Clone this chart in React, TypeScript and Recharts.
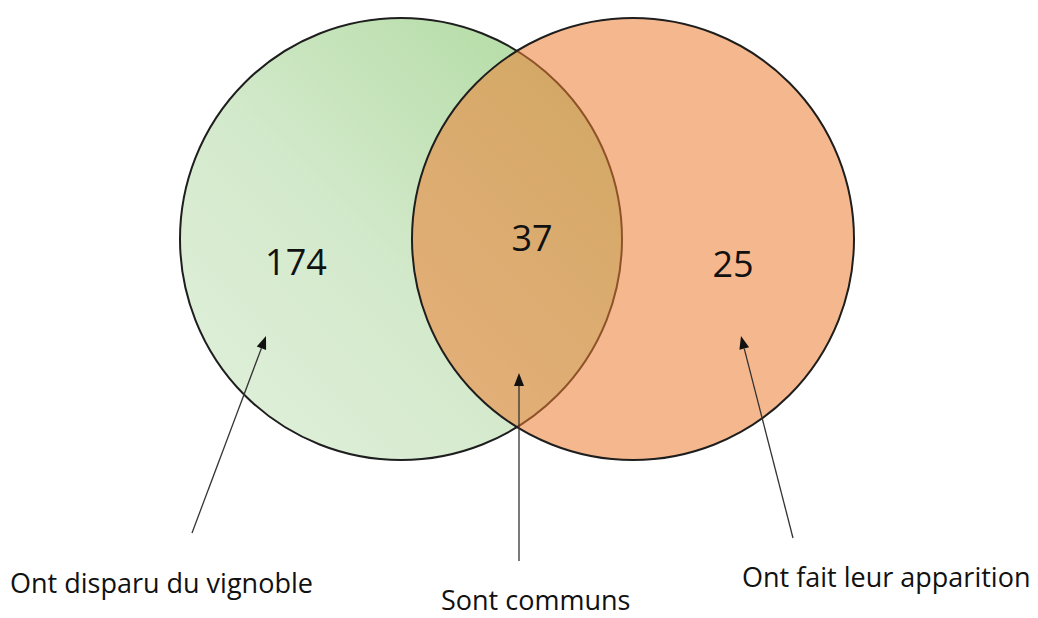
import React from 'react';
import { ScatterChart, Scatter, XAxis, YAxis } from 'recharts';

// diagram space is laid out in the same units as the picture (1 unit = 1px)
const CHART_W = 1038;
const CHART_H = 618;
const X_DOMAIN = [0, 1038];
const Y_DOMAIN = [0, 618];

// the two sets (circles)
const setNames = ['Ont disparu du vignoble', 'Ont fait leur apparition'];
const setCenterX = [401, 633];
const setCenterY = [239, 239];
const setRadius = [221, 221];

// the three regions of the diagram
const regionNames = ['Ont disparu du vignoble', 'Sont communs', 'Ont fait leur apparition'];
const regionCounts = [174, 37, 25];
const countX = [296, 532, 733];
const countY = [275, 251, 277];

// annotation arrows + captions
const arrowTailX = [192, 519, 793];
const arrowTailY = [533, 561, 538];
const arrowTipX = [266, 519, 741];
const arrowTipY = [336, 373, 336];
const captionX = [10, 441, 742];
const captionY = [593, 610, 587];

const FONT = '"Open Sans", Lato, sans-serif';
const pxPerUnitX = CHART_W / (X_DOMAIN[1] - X_DOMAIN[0]);
const pxPerUnitY = CHART_H / (Y_DOMAIN[1] - Y_DOMAIN[0]);

const setData = setNames.map((name, i) => ({ id: i, name, x: setCenterX[i], y: setCenterY[i], r: setRadius[i] }));
const countData = regionNames.map((name, i) => ({ id: i, name, value: regionCounts[i], x: countX[i], y: countY[i] }));
const arrowData = regionNames.map((name, i) => ({
  id: i,
  name,
  x: arrowTipX[i],
  y: arrowTipY[i],
  tailX: arrowTailX[i],
  tailY: arrowTailY[i],
}));
const captionData = regionNames.map((name, i) => ({ id: i, name, x: captionX[i], y: captionY[i] }));

const SetCircle = (props: any) => {
  const { cx, cy, payload } = props;
  const r = payload.r * pxPerUnitX;
  if (payload.id === 0) {
    return <circle cx={cx} cy={cy} r={r} fill="url(#greenFade)" stroke="#1e1e1e" strokeWidth={2} />;
  }
  return <circle cx={cx} cy={cy} r={r} fill="#ED7D31" fillOpacity={0.55} stroke="#1e1e1e" strokeWidth={2} />;
};

const CountLabel = (props: any) => {
  const { cx, cy, payload } = props;
  return (
    <text x={cx} y={cy} textAnchor="middle" fontFamily={FONT} fontSize={36} fill="#111">
      {payload.value}
    </text>
  );
};

const Caption = (props: any) => {
  const { cx, cy, payload } = props;
  return (
    <text x={cx} y={cy} textAnchor="start" fontFamily={FONT} fontSize={27} fill="#111">
      {payload.name}
    </text>
  );
};

// cx,cy = arrow tip; tail is placed relative to it in the same data units
const Arrow = (props: any) => {
  const { cx, cy, payload } = props;
  const x1 = cx + (payload.tailX - payload.x) * pxPerUnitX;
  const y1 = cy + (payload.tailY - payload.y) * pxPerUnitY;
  const dx = cx - x1;
  const dy = cy - y1;
  const len = Math.sqrt(dx * dx + dy * dy) || 1;
  const ux = dx / len;
  const uy = dy / len;
  const headLen = 13;
  const headHalf = 5;
  const bx = cx - ux * headLen;
  const by = cy - uy * headLen;
  const pts = `${cx},${cy} ${bx - uy * headHalf},${by + ux * headHalf} ${bx + uy * headHalf},${by - ux * headHalf}`;
  return (
    <g>
      <line x1={x1} y1={y1} x2={bx} y2={by} stroke="#333" strokeWidth={1.3} />
      <polygon points={pts} fill="#111" />
    </g>
  );
};

export default function App() {
  return (
    <div style={{ position: 'absolute', left: 0, top: 0, width: CHART_W, height: CHART_H, background: '#fff' }}>
      <ScatterChart width={CHART_W} height={CHART_H} margin={{ top: 0, right: 0, bottom: 0, left: 0 }}>
        <defs>
          <linearGradient id="greenFade" x1="0" y1="1" x2="1" y2="0">
            <stop offset="0%" stopColor="#e2f1dd" />
            <stop offset="45%" stopColor="#d3e9cb" />
            <stop offset="100%" stopColor="#acd99c" />
          </linearGradient>
        </defs>
        <XAxis type="number" dataKey="x" domain={X_DOMAIN} hide allowDataOverflow />
        <YAxis type="number" dataKey="y" domain={Y_DOMAIN} reversed hide allowDataOverflow />
        <Scatter data={setData} shape={SetCircle} isAnimationActive={false} />
        <Scatter data={countData} shape={CountLabel} isAnimationActive={false} />
        <Scatter data={arrowData} shape={Arrow} isAnimationActive={false} />
        <Scatter data={captionData} shape={Caption} isAnimationActive={false} />
      </ScatterChart>
    </div>
  );
}
